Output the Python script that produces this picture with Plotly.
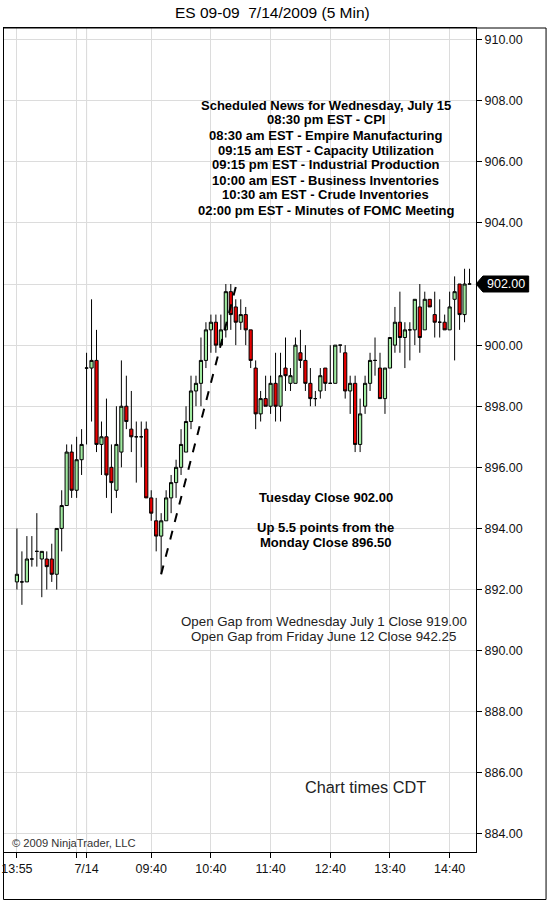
import pandas as pd
import plotly.graph_objects as go

# ES 09-09, 5 min bars: tail of Monday 7/13 session, then Tuesday 7/14
prev_bars = pd.date_range("2009-07-13 13:55", "2009-07-13 15:00", freq="5min")
today_bars = pd.date_range("2009-07-14 08:35", "2009-07-14 15:00", freq="5min")
bar_times = [t.strftime("%m/%d %H:%M") for t in prev_bars.append(today_bars)]

opens = [892.25, 892.25, 892.25, 893.00, 893.25, 893.00, 893.00, 893.00, 892.50, 894.00,
         894.75, 896.50, 895.25, 896.25, 899.25, 899.25, 899.50, 896.75, 897.00, 896.00,
         895.25, 896.50, 898.00, 897.25, 897.00, 897.00, 897.25, 895.00, 894.25, 893.75,
         894.25, 895.00, 895.50, 896.00, 896.50, 897.50, 898.50, 898.75, 899.50, 900.50,
         900.75, 900.00, 900.50, 901.75, 901.25, 900.75, 901.00, 900.50, 899.25, 897.75,
         898.25, 898.00, 898.75, 898.00, 899.25, 898.75, 898.75, 899.75, 899.50, 898.75,
         898.25, 898.50, 899.25, 898.75, 898.75, 900.00, 899.75, 898.50, 898.75, 896.75,
         898.00, 898.75, 899.50, 899.25, 898.25, 899.25, 900.00, 900.75, 900.25, 900.50,
         900.50, 901.25, 900.50, 901.50, 901.00, 900.75, 900.75, 900.50, 901.50, 902.00,
         901.00, 902.00]
highs = [894.00, 893.25, 893.75, 893.75, 894.50, 893.25, 893.25, 893.50, 894.00, 895.25,
         896.75, 896.75, 897.00, 897.25, 899.75, 901.50, 900.50, 897.50, 898.25, 896.75,
         898.00, 899.50, 899.00, 898.50, 897.50, 897.50, 897.50, 895.25, 895.00, 894.50,
         895.25, 895.75, 896.25, 897.25, 898.00, 899.00, 899.00, 900.25, 900.75, 901.00,
         901.00, 901.00, 902.00, 902.00, 901.50, 901.50, 901.25, 900.50, 899.50, 898.50,
         899.00, 899.00, 899.75, 899.75, 900.25, 899.25, 900.25, 900.50, 900.00, 899.25,
         898.50, 899.25, 899.25, 900.00, 900.00, 900.00, 900.00, 899.00, 899.00, 898.25,
         899.00, 899.75, 900.25, 899.75, 899.25, 900.25, 901.25, 901.75, 900.75, 900.75,
         901.50, 902.00, 901.75, 901.50, 901.75, 901.50, 901.00, 901.75, 902.25, 902.00,
         902.50, 902.50]
lows = [892.00, 891.50, 892.25, 892.75, 892.75, 891.75, 892.00, 892.25, 892.00, 893.25,
        894.75, 895.00, 895.00, 895.75, 896.75, 897.50, 896.50, 895.75, 895.00, 894.50,
        895.00, 896.00, 897.25, 896.50, 895.50, 896.00, 895.00, 894.25, 893.25, 892.50,
        894.25, 894.50, 895.00, 895.75, 896.50, 897.25, 898.00, 898.00, 899.25, 899.75,
        899.75, 900.00, 900.25, 900.50, 900.00, 900.50, 900.00, 899.25, 897.25, 897.50,
        898.00, 897.75, 897.50, 897.50, 898.50, 898.50, 898.75, 899.25, 898.50, 898.00,
        898.00, 898.25, 898.50, 898.75, 898.75, 899.75, 898.25, 897.75, 896.50, 896.50,
        897.75, 898.50, 899.00, 898.25, 897.75, 899.25, 899.75, 899.75, 899.25, 899.50,
        900.00, 899.75, 900.50, 901.25, 900.25, 900.25, 900.50, 900.50, 899.50, 900.50,
        900.75, 902.00]
closes = [892.50, 892.25, 893.00, 893.00, 893.25, 893.25, 892.75, 892.50, 894.00, 894.75,
          896.50, 895.25, 896.25, 896.75, 899.25, 899.50, 896.75, 897.00, 895.75, 895.50,
          896.75, 898.00, 897.50, 897.00, 897.00, 897.00, 895.00, 894.50, 893.75, 894.25,
          895.00, 895.50, 896.00, 896.75, 897.50, 898.50, 898.75, 899.50, 900.50, 900.75,
          900.00, 900.50, 901.75, 901.00, 900.75, 901.00, 900.50, 899.50, 897.75, 898.25,
          898.00, 898.75, 898.00, 899.00, 899.00, 899.00, 900.00, 899.50, 898.75, 898.25,
          898.25, 899.00, 898.75, 898.75, 900.00, 900.00, 898.50, 898.75, 896.75, 897.75,
          898.75, 899.50, 899.50, 898.25, 899.25, 900.25, 900.75, 900.25, 900.50, 900.50,
          901.50, 900.25, 901.50, 901.25, 900.75, 900.75, 900.50, 901.25, 901.75, 901.00,
          902.00, 902.00]

tick_times = ["07/13 13:55", "07/13 14:55", "07/14 08:35", "07/14 09:40", "07/14 10:40",
              "07/14 11:40", "07/14 12:40", "07/14 13:40", "07/14 14:40"]
tick_labels = ["13:55", "", "7/14", "09:40", "10:40", "11:40", "12:40", "13:40", "14:40"]

price_ticks = [884, 886, 888, 890, 892, 894, 896, 898, 900, 902, 904, 906, 908, 910]

# hand drawn trend line from the morning low
trend_times = ["07/14 09:50", "07/14 11:05"]
trend_prices = [892.50, 901.90]

last_price = 902.00

news_lines = ["Scheduled News for Wednesday, July 15",
              "08:30 pm EST - CPI",
              "08:30 am EST - Empire Manufacturing",
              "09:15 am EST - Capacity Utilization",
              "09:15 pm EST - Industrial Production",
              "10:00 am EST - Business Inventories",
              "10:30 am EST - Crude Inventories",
              "02:00 pm EST - Minutes of FOMC Meeting"]
close_lines = ["Tuesday Close 902.00", "", "Up 5.5 points from the", "Monday Close 896.50"]
gap_lines = ["Open Gap from Wednesday July 1 Close 919.00",
             "Open Gap from Friday June 12 Close 942.25"]

W, H = 548, 902
ML, MR, MT, MB = 1, 72, 28, 50
PW, PH = W - ML - MR, H - MT - MB
FONT = "Arial, 'Liberation Sans', sans-serif"


def fx(px):
    return (px - ML) / PW


def fy(py):
    return (H - MB - py) / PH


fig = go.Figure()
fig.add_trace(go.Candlestick(
    x=bar_times, open=opens, high=highs, low=lows, close=closes,
    increasing=dict(line=dict(color="black", width=1), fillcolor="#A0EBA0"),
    decreasing=dict(line=dict(color="black", width=1), fillcolor="#E80000"),
    showlegend=False, hoverinfo="skip"))
fig.add_trace(go.Scatter(
    x=trend_times, y=trend_prices, mode="lines",
    line=dict(color="black", width=2, dash="dash"), showlegend=False, hoverinfo="skip"))

ann = []
ann.append(dict(text="ES 09-09  7/14/2009 (5 Min)", x=fx(271), y=fy(13), font=dict(size=15.5)))
for k, t in enumerate(news_lines):
    ann.append(dict(text="<b>%s</b>" % t, x=fx(325), y=fy(105 + 15 * k), font=dict(size=13)))
for k, t in enumerate(close_lines):
    if t:
        ann.append(dict(text="<b>%s</b>" % t, x=fx(325), y=fy(497 + 15.3 * k), font=dict(size=13)))
for k, t in enumerate(gap_lines):
    ann.append(dict(text=t, x=fx(323), y=fy(621 + 15 * k), font=dict(size=13.3, color="#222")))
ann.append(dict(text="Chart times CDT", x=fx(365), y=fy(787), font=dict(size=16.3, color="#222")))
ann.append(dict(text="© 2009 NinjaTrader, LLC", x=fx(7), y=fy(843), xanchor="left",
                font=dict(size=11.2, color="#333")))
ann.append(dict(text="%.2f" % last_price, x=fx(506), y=fy(284), font=dict(size=12.5, color="white")))
for a in ann:
    a.setdefault("xanchor", "center")
    a.update(xref="paper", yref="paper", yanchor="middle", showarrow=False)
    a["font"].setdefault("color", "black")
    a["font"]["family"] = FONT

shapes = [
    # session break
    dict(type="line", xref="x", yref="paper", x0="07/14 08:35", x1="07/14 08:35", y0=0, y1=1,
         line=dict(color="#A8A8A8", width=1), layer="between"),
    # outer frame
    dict(type="rect", xref="paper", yref="paper", x0=fx(0.5), x1=fx(546.5), y0=fy(899.5), y1=fy(28),
         line=dict(color="black", width=1)),
    # last price marker
    dict(type="path", xref="paper", yref="paper",
         path="M %f,%f L %f,%f L %f,%f L %f,%f L %f,%f Z" % (
             fx(476), fy(284), fx(483), fy(276), fx(529), fy(276), fx(529), fy(292), fx(483), fy(292)),
         fillcolor="black", line=dict(color="black", width=1)),
]

fig.update_layout(
    width=W, height=H, margin=dict(l=ML, r=MR, t=MT, b=MB),
    paper_bgcolor="white", plot_bgcolor="white",
    font=dict(family=FONT, size=12, color="black"),
    boxgap=0.08, annotations=ann, shapes=shapes,
)
fig.update_xaxes(
    type="category", categoryorder="array", categoryarray=bar_times,
    range=[-2.6, 92.3], rangeslider_visible=False,
    tickmode="array", tickvals=tick_times, ticktext=tick_labels, tickangle=0,
    showgrid=True, gridcolor="#DCDCDC", gridwidth=1,
    showline=True, linecolor="black", linewidth=1, mirror=True,
    ticks="outside", ticklen=5, tickcolor="black", tickfont=dict(size=12.5, color="#111"),
)
# the 902.00 label sits under the last price marker, so it is left blank
fig.update_yaxes(
    side="right", range=[883.41, 910.38],
    tickmode="array", tickvals=price_ticks,
    ticktext=["" if v == last_price else "%.2f" % v for v in price_ticks],
    showgrid=True, gridcolor="#DCDCDC", gridwidth=1, zeroline=False,
    showline=True, linecolor="black", linewidth=1, mirror=True,
    ticks="outside", ticklen=5, tickcolor="black", tickfont=dict(size=12.5, color="#111"),
)

# page body has an 8px default margin; drop it so the chart sits at the window corner
fig.write_html("out.html", config={"displayModeBar": False},
               post_script="document.body.style.margin='0';")
